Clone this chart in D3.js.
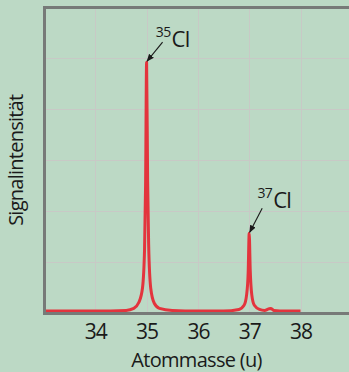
<!DOCTYPE html>
<html><head><meta charset="utf-8">
<script src="https://cdn.jsdelivr.net/npm/d3@7"></script>
<style>
html,body{margin:0;padding:0;background:#bcd9c5;}
svg{display:block;}
text{font-family:"Open Sans",sans-serif;fill:#1a1a1a;}
</style></head><body>
<svg id="c" width="349" height="372"></svg>
<script>
// Data
const mass = [33.0, 34.0, 34.6, 34.75, 34.85, 34.92, 34.96, 34.98, 35.0, 35.02, 35.04, 35.08, 35.15, 35.25, 35.5, 36.0, 36.5, 36.8, 36.9, 36.95, 36.98, 37.0, 37.02, 37.05, 37.1, 37.2, 37.3, 37.38, 37.42, 37.48, 37.6, 38.0];
const intensity = [0.05, 0.05, 0.06, 0.1, 0.22, 0.5, 1.25, 2.5, 4.92, 2.6, 1.35, 0.5, 0.2, 0.1, 0.06, 0.05, 0.05, 0.08, 0.16, 0.37, 0.8, 1.57, 0.85, 0.37, 0.16, 0.08, 0.06, 0.09, 0.1, 0.06, 0.05, 0.05];
const xTicks = [34, 35, 36, 37, 38];
const yGrid = [1, 2, 3, 4, 5];
const peaks = [{mass: 35.0, value: 4.92, iso: "35", el: "Cl"}, {mass: 37.0, value: 1.57, iso: "37", el: "Cl"}];
const xTitle = "Atommasse (u)";
const yTitle = "Signalintensität";

const svg = d3.select("#c");
const W = 349, H = 372;
const L = 44, T = 7, B = 313.5;
const x = d3.scaleLinear().domain([33, 38]).range([L, 300.5]);
const y = d3.scaleLinear().domain([0, 6]).range([B, T]);

svg.append("rect").attr("width", W).attr("height", H).attr("fill", "#bcd9c5");

// grid
const g = svg.append("g");
g.selectAll("line.v").data(xTicks).join("line")
  .attr("x1", d => Math.round(x(d)) + 0.5).attr("x2", d => Math.round(x(d)) + 0.5)
  .attr("y1", T).attr("y2", B).attr("stroke", "#c8c9c6").attr("stroke-width", 1);
g.selectAll("line.h").data(yGrid).join("line")
  .attr("y1", d => Math.round(y(d)) + 0.5).attr("y2", d => Math.round(y(d)) + 0.5)
  .attr("x1", L).attr("x2", W).attr("stroke", "#c8c9c6").attr("stroke-width", 1);

// curve
const line = d3.line().x((d, i) => x(mass[i])).y((d, i) => y(intensity[i])).curve(d3.curveMonotoneX);
svg.append("path").datum(intensity).attr("d", line)
  .attr("fill", "none").attr("stroke", "#e3343d").attr("stroke-width", 3).attr("stroke-linejoin", "round");

// frame
svg.append("line").attr("x1", L).attr("x2", W).attr("y1", T + 0.5).attr("y2", T + 0.5).attr("stroke", "#777a78").attr("stroke-width", 3);
svg.append("line").attr("x1", L + 0.5).attr("x2", L + 0.5).attr("y1", T - 1).attr("y2", B + 1.5).attr("stroke", "#777a78").attr("stroke-width", 3);
svg.append("line").attr("x1", L - 1).attr("x2", W).attr("y1", B).attr("y2", B).attr("stroke", "#777a78").attr("stroke-width", 3);

// x axis labels
const ax = svg.append("g").attr("transform", `translate(0,${B})`)
  .call(d3.axisBottom(x).tickValues(xTicks).tickSize(0).tickPadding(0).tickFormat(d3.format("d")));
ax.select(".domain").remove();
ax.selectAll("text").attr("y", 25.5).attr("dy", null).attr("font-size", 21)
  .style("font-family", "'Open Sans',sans-serif").attr("fill", "#1a1a1a").style("letter-spacing", "-1px");

svg.append("text").attr("x", (L + W) / 2).attr("y", 367).attr("text-anchor", "middle")
  .attr("font-size", 20).style("letter-spacing", "-0.7px").text(xTitle);
svg.append("text").attr("transform", `translate(23,${(T + B) / 2}) rotate(-90)`).attr("text-anchor", "middle")
  .attr("font-size", 20).style("letter-spacing", "-0.75px").text(yTitle);

// annotations
const defs = svg.append("defs");
defs.append("marker").attr("id", "ah").attr("viewBox", "0 0 10 10").attr("refX", 9).attr("refY", 5)
  .attr("markerWidth", 7).attr("markerHeight", 7).attr("orient", "auto")
  .append("path").attr("d", "M0,1 L10,5 L0,9 Z").attr("fill", "#1a1a1a");

const offs = [{dx: 16, dy: -19, tx: 25, ty: -14}, {dx: 13, dy: -24, tx: 24, ty: -24}];
peaks.forEach((p, i) => {
  const px = x(p.mass), py = y(p.value) - 1;
  const o = offs[i];
  svg.append("line").attr("x1", px + o.dx).attr("y1", py + o.dy).attr("x2", px + 0.5).attr("y2", py)
    .attr("stroke", "#1a1a1a").attr("stroke-width", 1.1).attr("marker-end", "url(#ah)");
  svg.append("text").attr("x", px + o.tx).attr("y", py + o.ty).attr("font-size", 22).style("letter-spacing", "-0.8px").text(p.el);
  svg.append("text").attr("x", px + o.tx - 1).attr("y", py + o.ty - 10).attr("text-anchor", "end")
    .attr("font-size", 14).style("letter-spacing", "-0.6px").text(p.iso);
});
</script></body></html>
